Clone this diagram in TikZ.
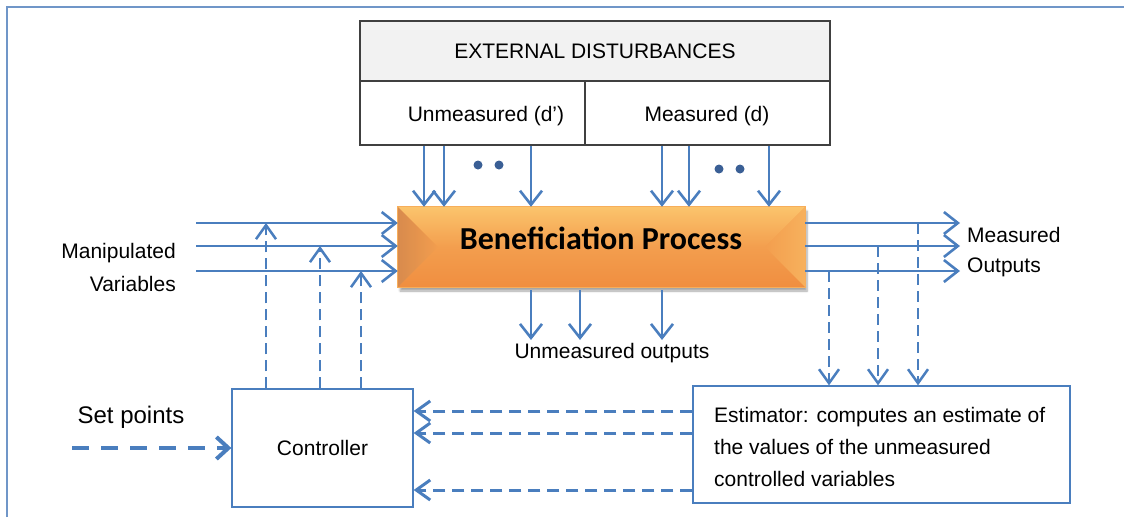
\documentclass[tikz,border=0pt]{standalone}
\usepackage{fontspec}
\setmainfont{Liberation Sans}
\newfontfamily\calib{Carlito}
\usetikzlibrary{arrows.meta,calc,shadows.blur}
\definecolor{ln}{HTML}{4A7EBE}
\definecolor{frm}{HTML}{7096C8}
\definecolor{dotc}{HTML}{3A5F95}
\definecolor{boxln}{HTML}{404040}
\definecolor{greyf}{HTML}{F2F2F2}
\definecolor{orA}{HTML}{FBC46C}
\definecolor{orB}{HTML}{F39E4E}
\definecolor{orC}{HTML}{F08E40}
\definecolor{orD}{HTML}{C96A20}
\tikzset{
  txt/.style={font=\fontsize{21}{25}\selectfont, inner sep=0pt},
  greybox/.style={draw=boxln, line width=1.5pt, fill=greyf, inner sep=0pt},
  whitebox/.style={draw=boxln, line width=1.5pt, fill=white, inner sep=0pt},
  bluebox/.style={draw=ln, line width=1.3pt, fill=white, inner sep=0pt, font=\fontsize{21}{25}\selectfont},
  arr/.style={draw=ln, line width=2.6pt, -{Straight Barb[length=14pt,width=22pt]}},
  darr/.style={draw=ln, line width=2.5pt, dash pattern=on 11pt off 6pt, -{Straight Barb[length=14pt,width=20pt]}},
  darrb/.style={draw=ln, line width=3pt, dash pattern=on 12pt off 7pt, -{Straight Barb[length=14pt,width=20pt]}},
  sparr/.style={draw=ln, line width=4pt, dash pattern=on 17pt off 12pt, -{Straight Barb[length=12pt,width=22pt]}},
}
\begin{document}
\begin{tikzpicture}[x=1pt,y=-1pt]
\useasboundingbox (0,0) rectangle (1124,517);
% outer frame
\draw[frm, line width=2.2pt] (7,517) -- (7,7) -- (1124,7);

% external disturbances
\node[greybox, minimum width=470pt, minimum height=60pt, txt] (ext) at (595,51) {EXTERNAL DISTURBANCES};
\node[whitebox, minimum width=225pt, minimum height=64pt] (unm) at (472.5,113) {};
\node[whitebox, minimum width=245pt, minimum height=64pt] (mea) at (707.5,113) {};
\node[txt] (unmlbl) at (486,116) {Unmeasured (d’)};
\node[txt] (mealbl) at (707,116) {Measured (d)};

% process box
\node[draw=none, fill=orB, minimum width=407pt, minimum height=80pt, inner sep=0pt,
  blur shadow={shadow xshift=2pt, shadow yshift=-4pt, shadow blur steps=6, shadow opacity=35}] (proc) at (601.5,247) {};
\coordinate (pl) at ($(proc.west)+(40,0)$);
\coordinate (pr) at ($(proc.east)+(-40,0)$);
\shade[top color=orA, bottom color=orB] (proc.north west) -- (proc.north east) -- (pr) -- (pl) -- cycle;
\shade[top color=orB, bottom color=orC] (proc.south west) -- (proc.south east) -- (pr) -- (pl) -- cycle;
\shade[left color=orD!80, right color=orB, opacity=0.85] (proc.north west) -- (pl) -- (proc.south west) -- cycle;
\shade[left color=orB, right color=orA!50!orB] (proc.north east) -- (pr) -- (proc.south east) -- cycle;
\draw[orA!60!orC, line width=0.8pt] (proc.north west) rectangle (proc.south east);
\node[inner sep=0pt, font=\calib\bfseries\fontsize{32}{36}\selectfont] (proclbl) at (601,238) {Beneficiation Process};

% disturbance arrows
\foreach \x in {424,444,531}{\draw[arr] (\x,0 |- unm.south) -- (\x,0 |- proc.north);}
\foreach \x in {662,689,769}{\draw[arr] (\x,0 |- mea.south) -- (\x,0 |- proc.north);}
\fill[dotc] (478,165) circle (4.5);
\fill[dotc] (499,165) circle (4.5);
\fill[dotc] (719,169) circle (4.5);
\fill[dotc] (740,169) circle (4.5);

% unmeasured outputs
\coordinate (uo1) at (531,340);
\coordinate (uo2) at (580,340);
\coordinate (uo3) at (662,340);
\draw[arr] ($(uo1 |- proc.south)+(0,3)$) -- (uo1);
\draw[arr] ($(uo2 |- proc.south)+(0,3)$) -- (uo2);
\draw[arr] ($(uo3 |- proc.south)+(0,3)$) -- (uo3);
\node[txt] (uolbl) at (612,353) {Unmeasured outputs};

% manipulated variables
\coordinate (mv1) at (196,223);
\coordinate (mv2) at (196,246);
\coordinate (mv3) at (196,271);
\draw[arr] (mv1) -- (proc.west |- mv1);
\draw[arr] (mv2) -- (proc.west |- mv2);
\draw[arr] (mv3) -- (proc.west |- mv3);
\node[txt, anchor=east] (mvl1) at (176,253) {Manipulated};
\node[txt, anchor=east] (mvl2) at (176,284) {Variables};

% measured outputs
\coordinate (mo1) at (960,223);
\coordinate (mo2) at (960,246);
\coordinate (mo3) at (960,271);
\draw[arr] (proc.east |- mo1) -- (mo1);
\draw[arr] (proc.east |- mo2) -- (mo2);
\draw[arr] (proc.east |- mo3) -- (mo3);
\node[txt, anchor=west] (mol1) at (967,235) {Measured};
\node[txt, anchor=west] (mol2) at (967,267) {Outputs};

% controller
\node[bluebox, minimum width=181pt, minimum height=118pt] (ctrl) at (322.5,448) {Controller};
\draw[darr] (266,0 |- ctrl.north) -- (266,0 |- mv1);
\draw[darr] (320,0 |- ctrl.north) -- (320,0 |- mv2);
\draw[darr] (361,0 |- ctrl.north) -- (361,0 |- mv3);

% set points
\node[inner sep=0pt, font=\fontsize{24}{28}\selectfont] (splbl) at (131,417) {Set points};
\coordinate (sp) at (72,448);
\draw[sparr] (sp) -- (ctrl.west |- sp);

% estimator
\node[bluebox, minimum width=377pt, minimum height=117pt] (est) at (881.5,444.5) {};
\node[inner sep=0pt, anchor=west, align=left, font=\fontsize{21}{32}\selectfont] (estlbl) at (714,447)
  {Estimator: computes an estimate of\\the values of the unmeasured\\controlled variables};
\draw[darr] (918,0 |- mo1) -- (918,0 |- est.north);
\draw[darr] (878,0 |- mo2) -- (878,0 |- est.north);
\draw[darr] (829,0 |- mo3) -- (829,0 |- est.north);

% estimator to controller
\draw[darrb] (est.west |- 0,411) -- (ctrl.east |- 0,411);
\draw[darrb] (est.west |- 0,433) -- (ctrl.east |- 0,433);
\draw[darrb] (est.west |- 0,490) -- (ctrl.east |- 0,490);
\end{tikzpicture}
\end{document}
